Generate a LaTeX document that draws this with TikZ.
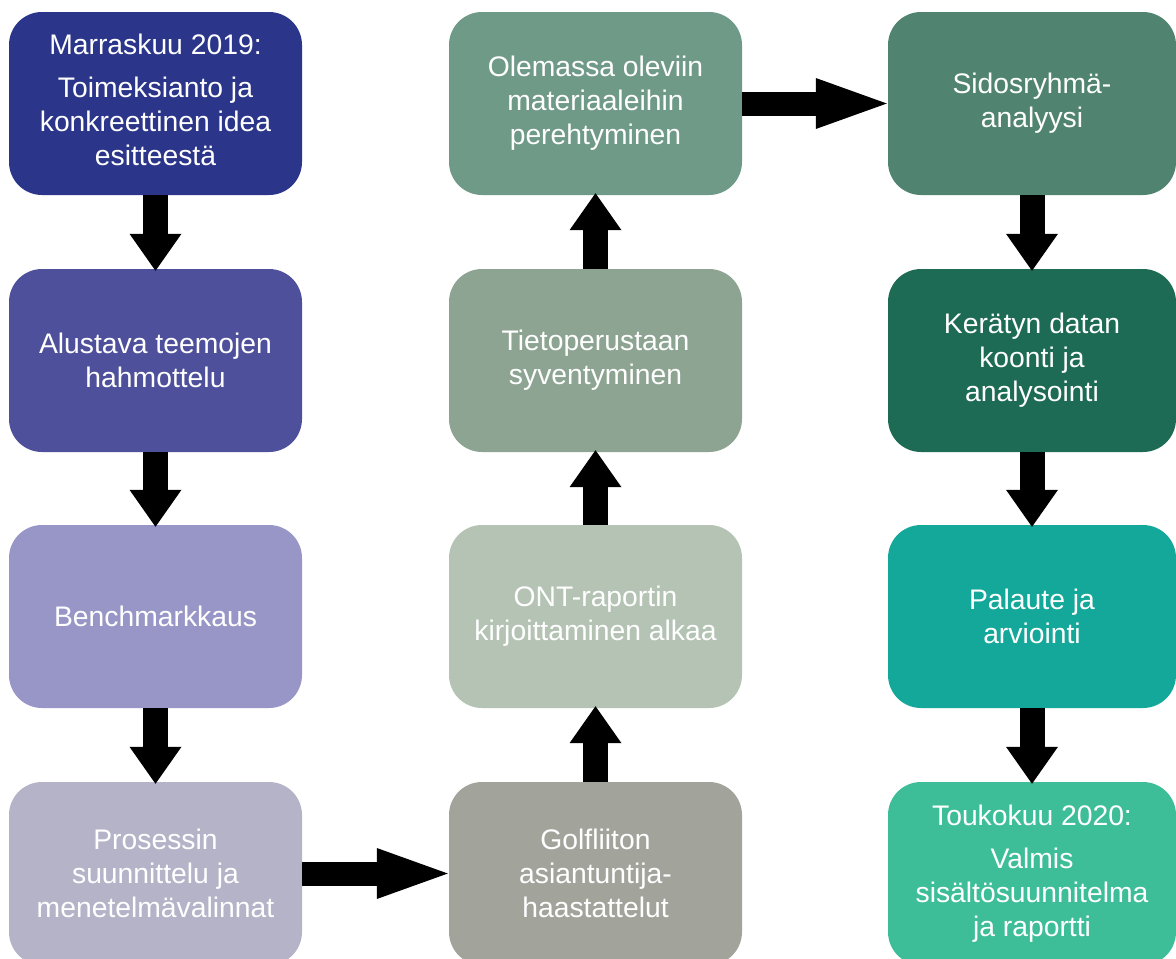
\documentclass[tikz,border=0pt]{standalone}
\usepackage{fontspec}
\setmainfont{Liberation Sans}
\usetikzlibrary{arrows.meta}
\definecolor{cA1}{RGB}{43,53,137}
\definecolor{cA2}{RGB}{79,80,155}
\definecolor{cA3}{RGB}{152,150,199}
\definecolor{cA4}{RGB}{181,179,200}
\definecolor{cB1}{RGB}{112,154,136}
\definecolor{cB2}{RGB}{140,164,145}
\definecolor{cB3}{RGB}{180,195,180}
\definecolor{cB4}{RGB}{162,164,156}
\definecolor{cC1}{RGB}{80,132,112}
\definecolor{cC2}{RGB}{29,107,85}
\definecolor{cC3}{RGB}{20,168,154}
\definecolor{cC4}{RGB}{62,190,152}
\tikzset{
  box/.style={rectangle, rounded corners=33pt, minimum width=293pt, minimum height=183pt,
    inner sep=0pt, text=white, align=center,
    font=\fontsize{28.3}{34}\selectfont},
  vconn/.style={line width=25pt, -{Triangle[width=52pt,length=37pt,line width=0pt]}},
  hconn/.style={line width=24pt, -{Triangle[width=51pt,length=71pt,line width=0pt]}},
}
\begin{document}
\begin{tikzpicture}[x=1pt,y=-1pt]
\clip (0,0) rectangle (1176,959);
\fill[white] (0,0) rectangle (1176,959);
% column 1
\node[box, fill=cA1] (a1) at (155.5,103.5) {\raisebox{2pt}{\begin{tabular}{@{}c@{}}Marraskuu 2019:\\[9pt]Toimeksianto ja\\konkreettinen idea\\esitteestä\end{tabular}}};
\node[box, fill=cA2] (a2) at (155.5,360.5) {Alustava teemojen\\hahmottelu};
\node[box, fill=cA3] (a3) at (155.5,616.5) {Benchmarkkaus};
\node[box, fill=cA4] (a4) at (155.5,873.5) {Prosessin\\suunnittelu ja\\menetelmävalinnat};
% column 2
\node[box, fill=cB1] (b1) at (595.5,103.5) {\raisebox{5pt}{\begin{tabular}{@{}c@{}}Olemassa oleviin\\materiaaleihin\\perehtyminen\end{tabular}}};
\node[box, fill=cB2] (b2) at (595.5,360.5) {Tietoperustaan\\syventyminen};
\node[box, fill=cB3] (b3) at (595.5,616.5) {ONT-raportin\\kirjoittaminen alkaa};
\node[box, fill=cB4] (b4) at (595.5,873.5) {Golfliiton\\asiantuntija-\\haastattelut};
% column 3
\node[box, fill=cC1, minimum width=288pt] (c1) at (1032,103.5) {Sidosryhmä-\\analyysi};
\node[box, fill=cC2, minimum width=288pt] (c2) at (1032,360.5) {Kerätyn datan\\koonti ja\\analysointi};
\node[box, fill=cC3, minimum width=288pt] (c3) at (1032,616.5) {Palaute ja\\arviointi};
\node[box, fill=cC4, minimum width=288pt] (c4) at (1032,873.5) {Toukokuu 2020:\\[9pt]Valmis\\sisältösuunnitelma\\ja raportti};
% connectors
\draw[vconn] (a1.south) -- ([yshift=-2pt]a2.north);
\draw[vconn] (a2.south) -- ([yshift=-2pt]a3.north);
\draw[vconn] (a3.south) -- ([yshift=-2pt]a4.north);
\draw[hconn] (a4.east) -- ([xshift=-1pt]b4.west);
\draw[vconn] (b4.north) -- ([yshift=2pt]b3.south);
\draw[vconn] (b3.north) -- ([yshift=2pt]b2.south);
\draw[vconn] (b2.north) -- ([yshift=2pt]b1.south);
\draw[hconn] (b1.east) -- ([xshift=-1pt]c1.west);
\draw[vconn] (c1.south) -- ([yshift=-2pt]c2.north);
\draw[vconn] (c2.south) -- ([yshift=-2pt]c3.north);
\draw[vconn] (c3.south) -- ([yshift=-2pt]c4.north);
\end{tikzpicture}
\end{document}
